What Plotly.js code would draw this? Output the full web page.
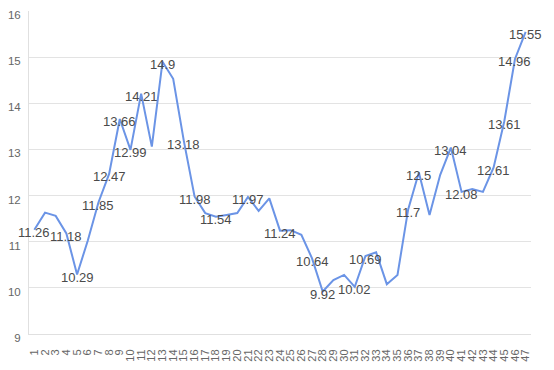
<!DOCTYPE html>
<html>
<head>
<meta charset="utf-8">
<script src="https://cdn.plot.ly/plotly-3.0.1.min.js"></script>
<style>html,body{margin:0;padding:0;background:#fff;}#chart{width:554px;height:370px;}</style>
</head>
<body>
<div id="chart"></div>
<script>
const categories = ["1","2","3","4","5","6","7","8","9","10","11","12","13","14","15","16","17","18","19","20","21","22","23","24","25","26","27","28","29","30","31","32","33","34","35","36","37","38","39","40","41","42","43","44","45","46","47"];
const values = [11.26,11.63,11.56,11.18,10.29,11.02,11.85,12.47,13.66,12.99,14.21,13.06,14.9,14.53,13.18,11.98,11.62,11.54,11.58,11.62,11.97,11.67,11.94,11.24,11.25,11.15,10.64,9.92,10.17,10.28,10.02,10.69,10.77,10.08,10.28,11.7,12.5,11.58,12.45,13.04,12.08,12.14,12.08,12.61,13.61,14.96,15.55];
const labeledPoints = ["1","4","5","7","8","9","10","11","13","15","16","18","21","24","27","28","31","32","36","37","40","41","44","45","46","47"];
const yTicks = [9,10,11,12,13,14,15,16];

const annotations = [];
categories.forEach((c, i) => {
  if (labeledPoints.includes(c)) {
    annotations.push({
      x: i, y: values[i], xref: 'x', yref: 'y', text: String(values[i]),
      showarrow: false, yshift: -3,
      font: {family: 'Liberation Sans, Arial, sans-serif', size: 13, color: '#4a4a4a'}
    });
  }
});

Plotly.newPlot('chart', [{
  type: 'scatter', mode: 'lines', x: categories, y: values,
  line: {color: '#6b94e6', width: 2},
  hoverinfo: 'none'
}], {
  width: 554, height: 370,
  margin: {l: 29, r: 23, t: 11, b: 36},
  paper_bgcolor: '#fff', plot_bgcolor: '#fff',
  showlegend: false,
  font: {family: 'Liberation Sans, Arial, sans-serif', color: '#666'},
  xaxis: {
    type: 'category', range: [-0.5, 46.5], tickangle: -90,
    tickmode: 'array', tickvals: categories, ticktext: categories,
    showgrid: false, zeroline: false, showline: true, linecolor: '#e0e0e0', linewidth: 1,
    ticks: '', tickfont: {size: 11, color: '#666'}, ticklabelstandoff: 10
  },
  yaxis: {
    range: [9, 16], tickvals: yTicks, showgrid: true, gridcolor: '#e3e3e3', gridwidth: 1,
    zeroline: false, showline: true, linecolor: '#e0e0e0', linewidth: 1,
    ticks: '', tickfont: {size: 11.5, color: '#666'}, ticklabelstandoff: 5, ticklabelshift: 4
  },
  annotations: annotations
}, {staticPlot: true});
</script>
</body>
</html>
